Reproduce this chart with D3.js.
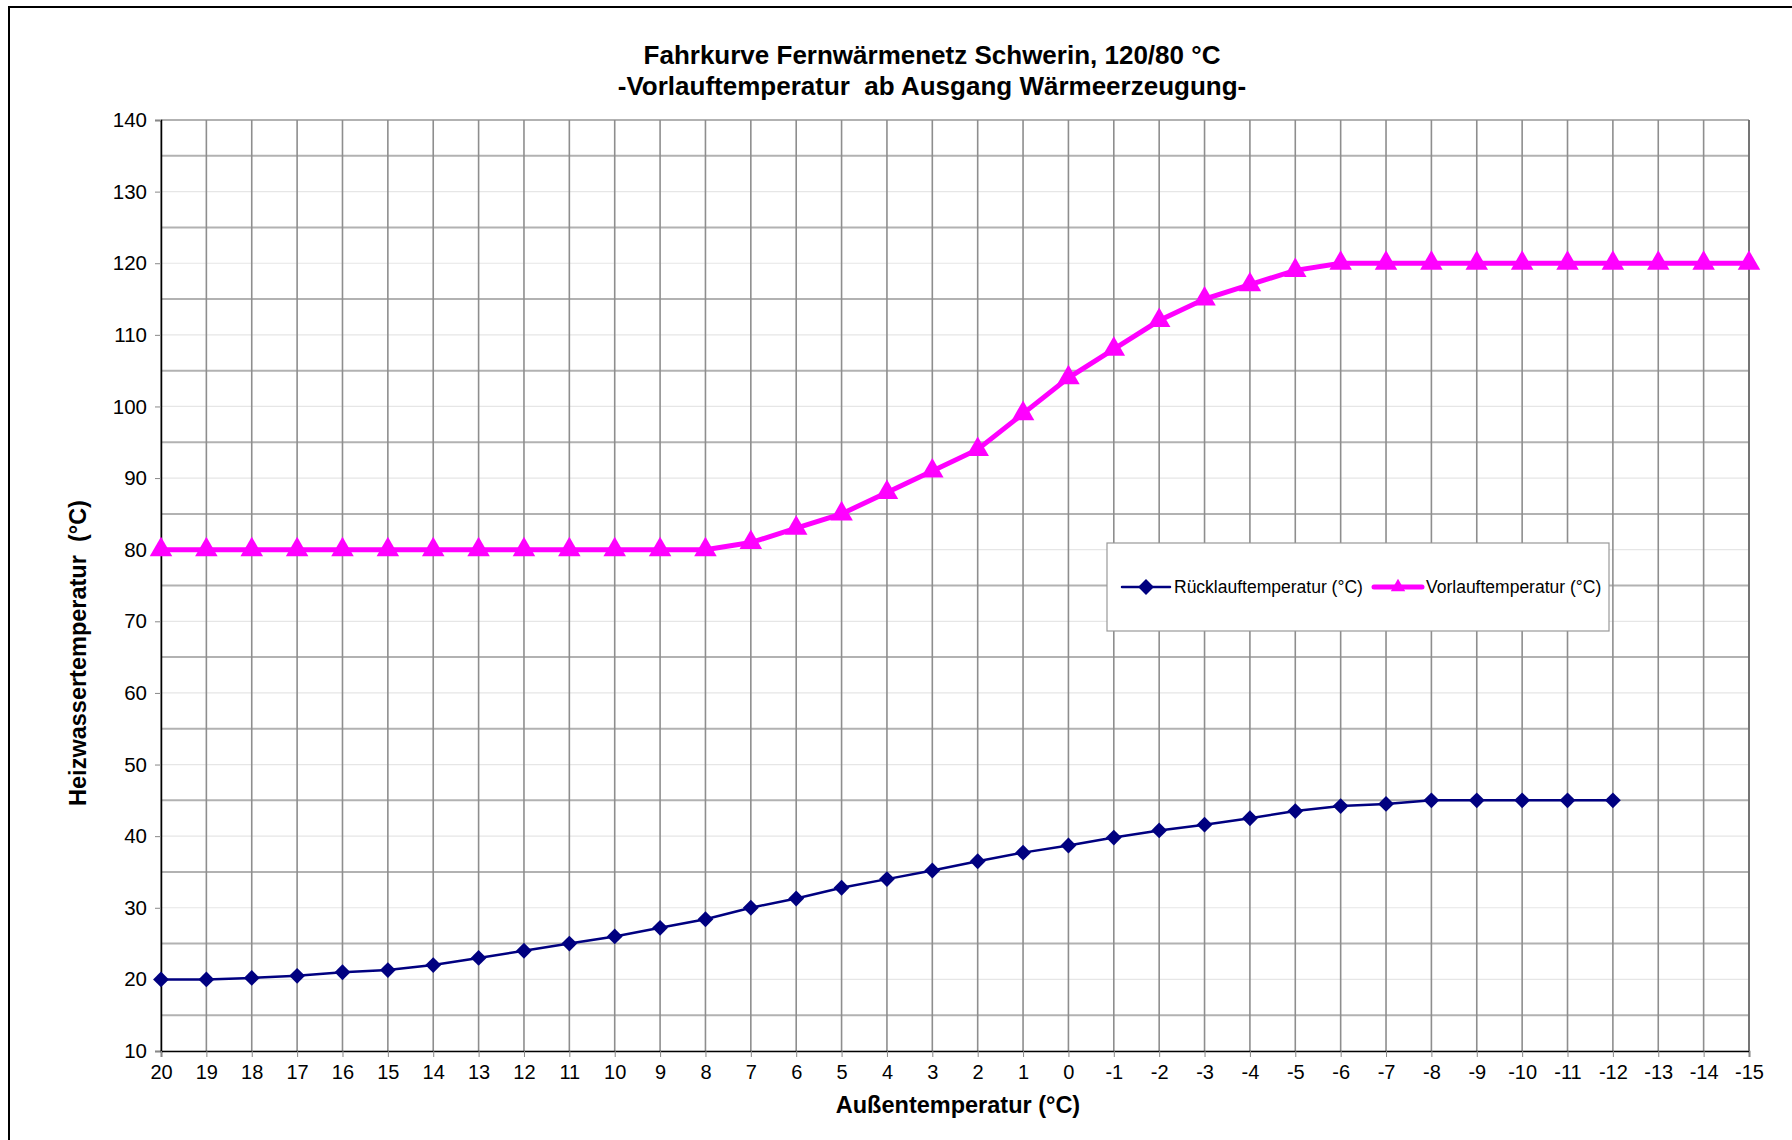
<!DOCTYPE html>
<html>
<head>
<meta charset="utf-8">
<script src="https://cdn.jsdelivr.net/npm/d3@7"></script>
<style>
  body { margin: 0; background: #fff; }
  text { font-family: "Liberation Sans", Arial, sans-serif; }
</style>
</head>
<body>
<div id="vis"></div>
<script>
// outside temperature categories (°C)
const categories = [20, 19, 18, 17, 16, 15, 14, 13, 12, 11, 10, 9, 8, 7, 6, 5, 4, 3, 2, 1, 0,
  -1, -2, -3, -4, -5, -6, -7, -8, -9, -10, -11, -12, -13, -14, -15];

// Rücklauf, ends at -12
const ruecklauf = [20, 20, 20.2, 20.5, 21, 21.3, 22, 23, 24, 25, 26, 27.2, 28.4, 30, 31.3, 32.8,
  34, 35.2, 36.5, 37.7, 38.7, 39.8, 40.8, 41.6, 42.5, 43.5, 44.2, 44.5, 45, 45, 45, 45, 45];

// Vorlauf
const vorlauf = [80, 80, 80, 80, 80, 80, 80, 80, 80, 80, 80, 80, 80, 81, 83, 85, 88, 91, 94, 99,
  104, 108, 112, 115, 117, 119, 120, 120, 120, 120, 120, 120, 120, 120, 120, 120];

const yTicks = [10, 20, 30, 40, 50, 60, 70, 80, 90, 100, 110, 120, 130, 140];
const yMinor = [15, 25, 35, 45, 55, 65, 75, 85, 95, 105, 115, 125, 135];

const titleLines = ["Fahrkurve Fernwärmenetz Schwerin, 120/80 °C",
  "-Vorlauftemperatur  ab Ausgang Wärmeerzeugung-"];

const W = 1792, H = 1140;
const plotL = 161, plotR = 1749, plotT = 120, plotB = 1051;

const svg = d3.select("#vis").append("svg")
    .attr("width", W)
    .attr("height", H);

// chart frame (runs off the right/bottom like the original)
svg.append("rect")
    .attr("x", 9).attr("y", 7)
    .attr("width", W + 20).attr("height", H + 20)
    .attr("fill", "#fff")
    .attr("stroke", "#000")
    .attr("stroke-width", 2);

const x = d3.scalePoint()
    .domain(categories)
    .range([plotL, plotR]);

const y = d3.scaleLinear()
    .domain([10, 140])
    .range([plotB, plotT]);

// horizontal gridlines
svg.append("g").selectAll("line")
    .data(yTicks)
    .join("line")
    .attr("x1", plotL).attr("x2", plotR)
    .attr("y1", (d) => y(d)).attr("y2", (d) => y(d))
    .attr("stroke", "#e6e6e6")
    .attr("stroke-width", 1.2);

svg.append("g").selectAll("line")
    .data(yMinor.concat([140]))
    .join("line")
    .attr("x1", plotL).attr("x2", plotR)
    .attr("y1", (d) => y(d)).attr("y2", (d) => y(d))
    .attr("stroke", "#b2b2b2")
    .attr("stroke-width", 2);

// vertical gridlines
svg.append("g").selectAll("line")
    .data(categories)
    .join("line")
    .attr("x1", (d) => x(d)).attr("x2", (d) => x(d))
    .attr("y1", plotT).attr("y2", plotB)
    .attr("stroke", "#8e8e8e")
    .attr("stroke-width", 1.6);

// axes
const yAxis = svg.append("g")
    .attr("transform", `translate(${plotL},0)`)
    .call(d3.axisLeft(y).tickValues(yTicks).tickSize(6).tickPadding(8));
yAxis.select(".domain").attr("stroke", "#000").attr("stroke-width", 1.5);
yAxis.selectAll(".tick line").attr("stroke", "#888");
yAxis.selectAll("text")
    .style("font-family", "'Liberation Sans', Arial, sans-serif")
    .style("font-size", "20.5px")
    .attr("fill", "#000");

const xAxis = svg.append("g")
    .attr("transform", `translate(0,${plotB})`)
    .call(d3.axisBottom(x).tickSize(6).tickPadding(8));
xAxis.select(".domain").attr("stroke", "#000").attr("stroke-width", 1.5);
xAxis.selectAll(".tick line").attr("stroke", "#888");
xAxis.selectAll("text")
    .style("font-family", "'Liberation Sans', Arial, sans-serif")
    .style("font-size", "20px")
    .attr("fill", "#000");

// right edge
svg.append("line")
    .attr("x1", plotR).attr("x2", plotR)
    .attr("y1", plotT).attr("y2", plotB)
    .attr("stroke", "#666").attr("stroke-width", 1.5);

// titles
svg.append("g").selectAll("text")
    .data(titleLines)
    .join("text")
    .attr("x", 932)
    .attr("y", (d, i) => 64 + i * 31)
    .attr("text-anchor", "middle")
    .style("font-size", "26px")
    .style("font-weight", "bold")
    .style("white-space", "pre")
    .text((d) => d);

svg.append("text")
    .attr("x", 958).attr("y", 1113)
    .attr("text-anchor", "middle")
    .style("font-size", "23.5px")
    .style("font-weight", "bold")
    .text("Außentemperatur (°C)");

svg.append("text")
    .attr("transform", "translate(86,653) rotate(-90)")
    .attr("text-anchor", "middle")
    .style("font-size", "23.5px")
    .style("font-weight", "bold")
    .style("white-space", "pre")
    .text("Heizwassertemperatur  (°C)");

// series
const line = d3.line()
    .x((d, i) => x(categories[i]))
    .y((d) => y(d));

const diamond = d3.symbol().type(d3.symbolDiamond2).size(160);
const triangle = d3.symbol().type(d3.symbolTriangle).size(220);

svg.append("path")
    .datum(ruecklauf)
    .attr("d", line)
    .attr("fill", "none")
    .attr("stroke", "#000080")
    .attr("stroke-width", 2.5);

svg.append("g").selectAll("path")
    .data(ruecklauf)
    .join("path")
    .attr("transform", (d, i) => `translate(${x(categories[i])},${y(d)})`)
    .attr("d", diamond)
    .attr("fill", "#000080");

svg.append("path")
    .datum(vorlauf)
    .attr("d", line)
    .attr("fill", "none")
    .attr("stroke", "#ff00ff")
    .attr("stroke-width", 5);

svg.append("g").selectAll("path")
    .data(vorlauf)
    .join("path")
    .attr("transform", (d, i) => `translate(${x(categories[i])},${y(d)})`)
    .attr("d", triangle)
    .attr("fill", "#ff00ff");

// legend
const legend = svg.append("g");
legend.append("rect")
    .attr("x", 1107).attr("y", 543)
    .attr("width", 502).attr("height", 88)
    .attr("fill", "#fff")
    .attr("stroke", "#999")
    .attr("stroke-width", 1.2);

const legendItems = [
  { label: "Rücklauftemperatur (°C)", color: "#000080", width: 2.5, sym: diamond, x0: 1122 },
  { label: "Vorlauftemperatur (°C)", color: "#ff00ff", width: 5, sym: d3.symbol().type(d3.symbolTriangle).size(90), x0: 1374 }
];
const ly = 587;
legendItems.forEach((it) => {
  legend.append("line")
      .attr("x1", it.x0).attr("x2", it.x0 + 48)
      .attr("y1", ly).attr("y2", ly)
      .attr("stroke", it.color)
      .attr("stroke-width", it.width)
      .attr("stroke-linecap", "round");
  legend.append("path")
      .attr("transform", `translate(${it.x0 + 24},${ly})`)
      .attr("d", it.sym)
      .attr("fill", it.color);
  legend.append("text")
      .attr("x", it.x0 + 52).attr("y", ly + 6)
      .style("font-size", "17.5px")
      .text(it.label);
});
</script>
</body>
</html>
